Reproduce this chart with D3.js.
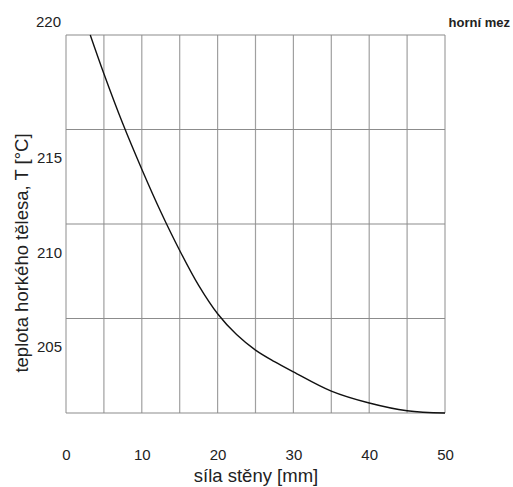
<!DOCTYPE html>
<html>
<head>
<meta charset="utf-8">
<script src="https://cdn.jsdelivr.net/npm/d3@7"></script>
<style>
  html, body { margin: 0; padding: 0; background: #fff; }
  svg { display: block; font-family: "Liberation Sans", Arial, sans-serif; }
</style>
</head>
<body>
<svg id="chart" width="513" height="487"></svg>
<script>
// Data
const thickness = [3.2, 5, 7.5, 10, 12.5, 15, 17.5, 20, 22.5, 25, 27.5, 30, 35, 40, 45, 50];
const temperature = [221.5, 219.45, 216.8, 214.4, 212.15, 210.1, 208.25, 206.75, 205.65, 204.83, 204.22, 203.68, 202.66, 202.03, 201.62, 201.5];
const xTicks = [0, 10, 20, 30, 40, 50];
const yTicks = [205, 210, 215];
const yTopLabel = "220";
const xGrid = [0, 5, 10, 15, 20, 25, 30, 35, 40, 45, 50];
const yGrid = [201.5, 206.5, 211.5, 216.5, 221.5];
const xTitle = "síla stěny [mm]";
const yTitle = "teplota horkého tělesa, T [°C]";
const noteText = "horní mez";

const svg = d3.select("#chart");
const m = { left: 66, right: 445, top: 35, bottom: 413 };

const x = d3.scaleLinear().domain([0, 50]).range([m.left, m.right]);
const y = d3.scaleLinear().domain([201.5, 221.5]).range([m.bottom, m.top]);

// grid
svg.append("g").selectAll("line").data(xGrid).join("line")
  .attr("x1", d => x(d)).attr("x2", d => x(d))
  .attr("y1", m.top).attr("y2", m.bottom)
  .attr("stroke", "#a0a0a0").attr("stroke-width", 1.2);
svg.append("g").selectAll("line").data(yGrid).join("line")
  .attr("x1", m.left).attr("x2", m.right)
  .attr("y1", d => y(d)).attr("y2", d => y(d))
  .attr("stroke", "#8c8c8c").attr("stroke-width", 1.2);

// x tick labels
const xAxis = d3.axisBottom(x).tickValues(xTicks).tickSize(0).tickPadding(0);
const gx = svg.append("g").attr("transform", `translate(0, 450)`).call(xAxis);
gx.select(".domain").remove();
gx.selectAll("text").attr("font-size", 15).attr("fill", "#222")
  .attr("font-family", "Liberation Sans, Arial, sans-serif").attr("dy", "0.32em").attr("y", 5);

// y tick labels
const yAxis = d3.axisLeft(y).tickValues(yTicks).tickSize(0).tickPadding(0);
const gy = svg.append("g").attr("transform", `translate(62, 0)`).call(yAxis);
gy.select(".domain").remove();
gy.selectAll("text").attr("font-size", 15).attr("fill", "#222")
  .attr("font-family", "Liberation Sans, Arial, sans-serif");

svg.append("text").attr("x", 61).attr("y", 22).attr("dy", "0.35em")
  .attr("text-anchor", "end").attr("font-size", 15).attr("fill", "#222")
  .text(yTopLabel);

// curve
const line = d3.line().x((d, i) => x(thickness[i])).y(d => y(d)).curve(d3.curveCatmullRom.alpha(0.5));
svg.append("path").datum(temperature).attr("d", line)
  .attr("fill", "none").attr("stroke", "#111").attr("stroke-width", 1.4);

// titles
svg.append("text").attr("x", 256).attr("y", 476).attr("dy", "0.35em")
  .attr("text-anchor", "middle").attr("font-size", 18.5).attr("fill", "#222")
  .text(xTitle);
svg.append("text").attr("transform", "translate(22, 253) rotate(-90)").attr("dy", "0.35em")
  .attr("text-anchor", "middle").attr("font-size", 18.5).attr("fill", "#222")
  .text(yTitle);
svg.append("text").attr("x", 510).attr("y", 22).attr("dy", "0.35em")
  .attr("text-anchor", "end").attr("font-size", 13).attr("font-weight", "bold").attr("fill", "#222")
  .text(noteText);
</script>
</body>
</html>
